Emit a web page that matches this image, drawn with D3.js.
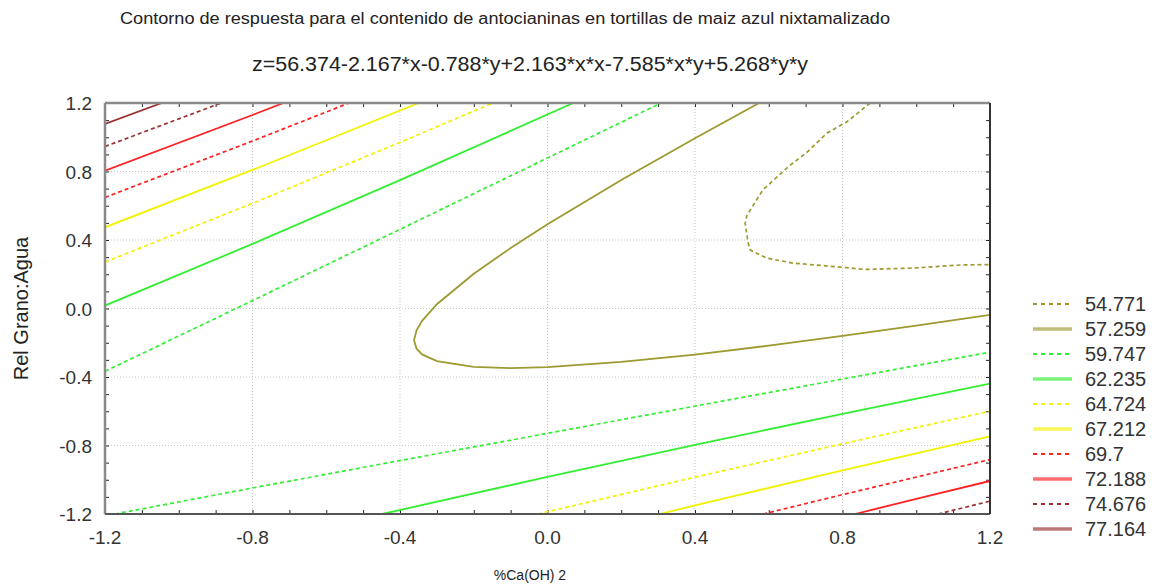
<!DOCTYPE html>
<html lang="es">
<head>
<meta charset="UTF-8">
<title>Contorno de respuesta</title>
<script src="https://d3js.org/d3.v7.min.js"></script>
<style>
  body { margin: 0; background: #fff; }
  svg { display: block; font-family: Arial, "Liberation Sans", sans-serif; }
  .grid line { stroke: #c8c8c8; stroke-dasharray: 1,2; }
  .ticks line { stroke: #222; }
  .ticks path { display: none; }
</style>
</head>
<body>
<svg width="1156" height="588"></svg>
<script>
// contour levels (legend)
const levels = [54.771, 57.259, 59.747, 62.235, 64.724, 67.212, 69.7, 72.188, 74.676, 77.164];
const levelLabels = ["54.771", "57.259", "59.747", "62.235", "64.724", "67.212", "69.7", "72.188", "74.676", "77.164"];

// axis ticks
const xTicks = [-1.2, -0.8, -0.4, 0.0, 0.4, 0.8, 1.2];
const xTickLabels = ["-1.2", "-0.8", "-0.4", "0.0", "0.4", "0.8", "1.2"];
const yTicks = [-1.2, -0.8, -0.4, 0.0, 0.4, 0.8, 1.2];
const yTickLabels = ["-1.2", "-0.8", "-0.4", "0.0", "0.4", "0.8", "1.2"];

// contour lines, [x, y] points, one array per branch
const z54771 = [
  [[0.875, 1.2], [0.812, 1.09], [0.758, 1.025], [0.704, 0.913], [0.652, 0.826], [0.584, 0.692],
   [0.541, 0.545], [0.536, 0.499], [0.544, 0.382], [0.55, 0.341], [0.595, 0.294], [0.666, 0.265],
   [0.793, 0.242], [0.861, 0.228], [0.991, 0.236], [1.127, 0.255], [1.2, 0.256]]
];
const z57259 = [
  [[0.574, 1.2], [0.4, 0.994], [0.2, 0.750], [0.0, 0.492], [-0.1, 0.353], [-0.2, 0.203], [-0.3, 0.025],
   [-0.34, -0.072], [-0.355, -0.127], [-0.362, -0.186], [-0.355, -0.235], [-0.34, -0.268], [-0.3, -0.307],
   [-0.2, -0.341], [-0.1, -0.348], [0.0, -0.342], [0.2, -0.312], [0.4, -0.269], [0.6, -0.217],
   [0.8, -0.160], [1.0, -0.100], [1.2, -0.037]]
];
const z59747 = [
  [[-1.2, -0.367], [-0.8, 0.046], [-0.4, 0.462], [0.0, 0.879], [0.308, 1.2]],
  [[-1.173, -1.2], [-0.8, -1.048], [-0.4, -0.888], [0.0, -0.729], [0.4, -0.570], [0.8, -0.412], [1.2, -0.255]]
];
const z62235 = [
  [[-1.2, 0.017], [-0.8, 0.377], [-0.4, 0.750], [0.070, 1.2]],
  [[-0.448, -1.2], [0.0, -0.983], [0.4, -0.796], [0.8, -0.615], [1.2, -0.438]]
];
const z64724 = [
  [[-1.2, 0.271], [-0.8, 0.614], [-0.4, 0.970], [-0.148, 1.2]],
  [[-0.026, -1.2], [0.4, -0.985], [0.8, -0.790], [1.2, -0.600]]
];
const z67212 = [
  [[-1.2, 0.474], [-0.8, 0.809], [-0.349, 1.2]],
  [[0.304, -1.2], [0.4, -1.150], [0.8, -0.945], [1.2, -0.747]]
];
const z69700 = [
  [[-1.2, 0.649], [-0.8, 0.978], [-0.538, 1.2]],
  [[0.585, -1.2], [0.8, -1.087], [1.2, -0.882]]
];
const z72188 = [
  [[-1.2, 0.805], [-0.8, 1.130], [-0.716, 1.2]],
  [[0.834, -1.2], [1.0, -1.112], [1.2, -1.007]]
];
const z74676 = [
  [[-1.2, 0.946], [-0.885, 1.2]],
  [[1.059, -1.2], [1.2, -1.125]]
];
const z77164 = [
  [[-1.2, 1.078], [-1.046, 1.2]]
];
const contourLines = [z54771, z57259, z59747, z62235, z64724, z67212, z69700, z72188, z74676, z77164];

// styles per level
const levelColors = ["#9c9a30", "#9c9a30", "#33ee33", "#33ee33", "#f2f200", "#f2f200",
                     "#ff2020", "#ff2020", "#9a3030", "#9a3030"];
const levelDashed = [true, false, true, false, true, false, true, false, true, false];

const svg = d3.select("svg");
const pLeft = 105, pRight = 990, pTop = 103, pBottom = 514;

const x = d3.scaleLinear().domain([-1.2, 1.2]).range([pLeft, pRight]);
const y = d3.scaleLinear().domain([-1.2, 1.2]).range([pBottom, pTop]);

// titles
svg.append("text")
    .attr("x", 120).attr("y", 24)
    .attr("textLength", 770).attr("lengthAdjust", "spacingAndGlyphs")
    .style("font-size", "16px").style("fill", "#222")
    .text("Contorno de respuesta para el contenido de antocianinas en tortillas de maiz azul nixtamalizado");

svg.append("text")
    .attr("x", 252).attr("y", 71)
    .attr("textLength", 556).attr("lengthAdjust", "spacingAndGlyphs")
    .style("font-size", "20px").style("fill", "#222")
    .text("z=56.374-2.167*x-0.788*y+2.163*x*x-7.585*x*y+5.268*y*y");

// grid
const grid = svg.append("g").attr("class", "grid");
grid.selectAll(".gx").data(xTicks.slice(1, -1)).enter().append("line")
    .attr("x1", d => x(d)).attr("x2", d => x(d))
    .attr("y1", pTop).attr("y2", pBottom);
grid.selectAll(".gy").data(yTicks.slice(1, -1)).enter().append("line")
    .attr("y1", d => y(d)).attr("y2", d => y(d))
    .attr("x1", pLeft).attr("x2", pRight);

// minor ticks every 0.1, inward on all sides
const minor = d3.range(-12, 13).map(i => i / 10);
svg.append("g").attr("class", "ticks").attr("transform", `translate(0,${pBottom})`)
    .call(d3.axisBottom(x).tickValues(minor).tickSize(-4).tickFormat(""));
svg.append("g").attr("class", "ticks").attr("transform", `translate(0,${pTop})`)
    .call(d3.axisTop(x).tickValues(minor).tickSize(-4).tickFormat(""));
svg.append("g").attr("class", "ticks").attr("transform", `translate(${pLeft},0)`)
    .call(d3.axisLeft(y).tickValues(minor).tickSize(-4).tickFormat(""));
svg.append("g").attr("class", "ticks").attr("transform", `translate(${pRight},0)`)
    .call(d3.axisRight(y).tickValues(minor).tickSize(-4).tickFormat(""));

// contours
svg.append("clipPath").attr("id", "plotclip").append("rect")
    .attr("x", pLeft).attr("y", pTop).attr("width", pRight - pLeft).attr("height", pBottom - pTop);

const line = d3.line().x(d => x(d[0])).y(d => y(d[1]));
const cg = svg.append("g").attr("clip-path", "url(#plotclip)");
contourLines.forEach((branches, i) => {
  cg.selectAll(null).data(branches).enter().append("path")
      .attr("d", line)
      .attr("fill", "none")
      .attr("stroke", levelColors[i])
      .attr("stroke-width", levelDashed[i] ? 1.7 : 1.8)
      .attr("stroke-dasharray", levelDashed[i] ? "4,3" : null);
});

// frame
svg.append("line").attr("x1", pLeft).attr("x2", pRight).attr("y1", pTop).attr("y2", pTop)
    .attr("stroke", "#8a8a8a").attr("stroke-width", 2.5);
svg.append("line").attr("x1", pLeft).attr("x2", pLeft).attr("y1", pTop).attr("y2", pBottom)
    .attr("stroke", "#8a8a8a").attr("stroke-width", 2.5);
svg.append("line").attr("x1", pLeft).attr("x2", pRight).attr("y1", pBottom).attr("y2", pBottom)
    .attr("stroke", "#555").attr("stroke-width", 2);
svg.append("line").attr("x1", pRight).attr("x2", pRight).attr("y1", pTop).attr("y2", pBottom)
    .attr("stroke", "#333").attr("stroke-width", 2);

// tick labels
svg.selectAll(".xl").data(xTicks).enter().append("text")
    .attr("x", d => x(d)).attr("y", pBottom + 30)
    .attr("text-anchor", "middle")
    .style("font-size", "19px").style("fill", "#333")
    .text((d, i) => xTickLabels[i]);
svg.selectAll(".yl").data(yTicks).enter().append("text")
    .attr("x", pLeft - 13).attr("y", d => y(d) + 7)
    .attr("text-anchor", "end")
    .style("font-size", "19px").style("fill", "#333")
    .text((d, i) => yTickLabels[i]);

// axis titles
svg.append("text")
    .attr("transform", `translate(28,${(pTop + pBottom) / 2}) rotate(-90)`)
    .attr("text-anchor", "middle")
    .style("font-size", "20px").style("fill", "#222")
    .text("Rel Grano:Agua");
svg.append("text")
    .attr("x", 530).attr("y", 580)
    .attr("text-anchor", "middle")
    .style("font-size", "14px").style("fill", "#222")
    .text("%Ca(OH) 2");

// legend
const legend = svg.append("g");
const ly = d3.scaleLinear().domain([0, levels.length - 1]).range([304, 529]);
levels.forEach((lv, i) => {
  legend.append("line")
      .attr("x1", 1033).attr("x2", 1072)
      .attr("y1", ly(i)).attr("y2", ly(i))
      .attr("stroke", levelColors[i])
      .attr("stroke-opacity", levelDashed[i] ? 1 : 0.65)
      .attr("stroke-width", levelDashed[i] ? 1.8 : 3.5)
      .attr("stroke-dasharray", levelDashed[i] ? "4,4" : null);
  legend.append("text")
      .attr("x", 1085).attr("y", ly(i) + 7)
      .style("font-size", "20px").style("fill", "#333")
      .text(levelLabels[i]);
});
</script>
</body>
</html>
